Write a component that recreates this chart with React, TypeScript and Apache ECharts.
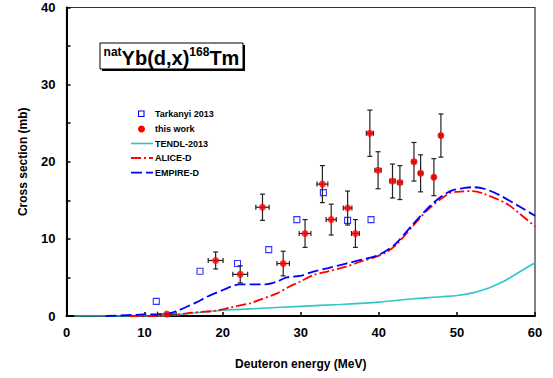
import React, { useEffect, useRef } from "react";
import * as echarts from "echarts";

// Tarkanyi 2013 (open squares)
const tarkanyiE = [11.5, 17.1, 21.9, 25.9, 29.5, 32.9, 36.0, 39.0];
const tarkanyiXS = [1.9, 5.8, 6.8, 8.6, 12.5, 16.0, 12.4, 12.5];

// this work (filled circles with error bars)
const workE = [12.85, 19.1, 22.25, 25.1, 27.75, 30.55, 32.77, 33.9, 36.0, 37.0, 38.85, 39.9, 41.75, 42.7, 44.5, 45.35, 47.05, 47.95];
const workXS = [0.25, 7.2, 5.4, 14.1, 6.8, 10.7, 17.1, 12.5, 14.0, 10.7, 23.7, 18.9, 17.5, 17.3, 20.0, 18.5, 18.0, 23.4];
const workDE = [1.2, 0.95, 0.95, 0.85, 0.8, 0.75, 0.7, 0.65, 0.55, 0.5, 0.45, 0.4, 0.35, 0.3, 0.25, 0.25, 0.2, 0.2];
const workDXS = [0.1, 1.1, 1.1, 1.7, 1.6, 1.8, 2.4, 2.0, 2.2, 1.8, 3.0, 2.4, 2.2, 2.2, 2.5, 2.4, 2.4, 2.8];

// TENDL-2013
const tendlE = [1, 10, 12.5, 14, 16, 18, 20, 25, 30, 35, 40, 43, 46, 48, 50, 52, 54, 56, 58, 60];
const tendlXS = [0, 0, 0, 0.15, 0.35, 0.55, 0.75, 1.0, 1.25, 1.5, 1.8, 2.1, 2.35, 2.5, 2.65, 3.0, 3.6, 4.5, 5.7, 6.9];

// ALICE-D
const aliceE = [8, 12, 13.5, 15.4, 17, 19.2, 21, 23.5, 25, 26.9, 28.5, 30, 31.6, 33.5, 35.8, 37.5, 39.7, 41, 42.2, 44.3, 46.5, 49, 50, 52, 53.3, 56.3, 58, 60];
const aliceXS = [0, 0, 0.1, 0.35, 0.5, 0.7, 1.1, 1.65, 2.2, 2.9, 3.8, 4.5, 5.3, 5.8, 6.4, 7.0, 7.7, 8.3, 9.2, 11.6, 14.0, 15.9, 16.1, 16.2, 15.9, 14.6, 13.3, 11.6];

// EMPIRE-D
const empireE = [5, 9.9, 12.9, 14, 15.4, 16.7, 18, 20.1, 22.2, 24, 25.5, 26.8, 28.2, 29.9, 31.6, 33.5, 35.8, 37.8, 39.7, 41, 42.2, 44.3, 46.5, 48, 49.4, 51, 52, 53.5, 55.4, 58, 60];
const empireXS = [0, 0.2, 0.3, 0.6, 1.2, 1.8, 2.5, 3.4, 4.1, 4.1, 4.1, 4.4, 5.0, 5.2, 5.75, 6.2, 6.8, 7.3, 7.8, 8.5, 9.4, 11.8, 14.2, 15.5, 16.3, 16.6, 16.7, 16.5, 15.7, 14.2, 13.0];

const xTicks = { min: 0, max: 60, interval: 10 };
const yTicks = { min: 0, max: 40, interval: 5 };

const FONT = "'Liberation Sans', Arial, sans-serif";

export default function App() {
  const ref = useRef<HTMLDivElement>(null);
  useEffect(() => {
    if (!ref.current) return;
    const chart = echarts.init(ref.current, undefined, { renderer: "svg" });
    const zip = (a: number[], b: number[]) => a.map((v, i) => [v, b[i]]);
    const errData = workE.map((e, i) => [e, workXS[i], workDE[i], workDXS[i]]);

    const lx1 = 131, lx2 = 153, tx = 155;
    const legendText = (t: string, y: number) => ({
      type: "text",
      x: tx,
      y,
      style: { text: t, font: `bold 9px ${FONT}`, fill: "#000", verticalAlign: "middle", align: "left" },
    });

    chart.setOption({
      animation: false,
      backgroundColor: "#fff",
      grid: { left: 66.5, right: 18, top: 7.5, bottom: 62, show: true, borderColor: "#333", borderWidth: 1.2, backgroundColor: "transparent" },
      xAxis: {
        type: "value",
        ...xTicks,
        name: "Deuteron energy (MeV)",
        nameLocation: "middle",
        nameGap: 42,
        nameTextStyle: { fontFamily: FONT, fontWeight: "bold", fontSize: 12, color: "#000" },
        axisLine: { show: true, onZero: false, lineStyle: { color: "#000", width: 2 } },
        axisTick: { show: true, inside: true, length: 4, lineStyle: { color: "#000", width: 1.5 } },
        axisLabel: { fontFamily: FONT, fontWeight: "bold", fontSize: 13, color: "#000", margin: 10 },
        splitLine: { show: false },
      },
      yAxis: {
        type: "value",
        ...yTicks,
        name: "Cross section (mb)",
        nameLocation: "middle",
        nameGap: 38,
        nameTextStyle: { fontFamily: FONT, fontWeight: "bold", fontSize: 12, color: "#000" },
        axisLine: { show: true, onZero: false, lineStyle: { color: "#000", width: 2 } },
        axisTick: { show: true, inside: true, length: 4, lineStyle: { color: "#000", width: 1.5 } },
        axisLabel: {
          fontFamily: FONT, fontWeight: "bold", fontSize: 13, color: "#000", margin: 11,
          formatter: (v: number) => (v % 10 === 0 ? String(v) : ""),
        },
        splitLine: { show: false },
      },
      series: [
        {
          name: "TENDL-2013", type: "line", data: zip(tendlE, tendlXS), smooth: 0.3, symbol: "none",
          lineStyle: { color: "#33C6C6", width: 1.6 }, z: 2,
        },
        {
          name: "ALICE-D", type: "line", data: zip(aliceE, aliceXS), smooth: 0.3, symbol: "none",
          lineStyle: { color: "#FF0000", width: 1.8, type: [10, 3, 2, 3] }, z: 3,
        },
        {
          name: "EMPIRE-D", type: "line", data: zip(empireE, empireXS), smooth: 0.3, symbol: "none",
          lineStyle: { color: "#0000FF", width: 1.8, type: [11, 4] }, z: 4,
        },
        {
          name: "Tarkanyi 2013", type: "scatter", data: zip(tarkanyiE, tarkanyiXS), symbol: "rect", symbolSize: 6,
          itemStyle: { color: "rgba(255,255,255,0)", borderColor: "#0000FF", borderWidth: 1.1 }, z: 5,
        },
        {
          name: "errors", type: "custom", data: errData, encode: { x: 0, y: 1 }, z: 6,
          renderItem: (params: any, api: any) => {
            const e = api.value(0), s = api.value(1), de = api.value(2), ds = api.value(3);
            const lo = api.coord([e, Math.max(0, s - ds)]);
            const hi = api.coord([e, s + ds]);
            const l = api.coord([e - de, s]);
            const r = api.coord([e + de, s]);
            const c = 2.5;
            const st = { stroke: "#222", lineWidth: 1.2 };
            const ln = (x1: number, y1: number, x2: number, y2: number) => ({ type: "line", shape: { x1, y1, x2, y2 }, style: st });
            return {
              type: "group",
              children: [
                ln(lo[0], lo[1], hi[0], hi[1]),
                ln(lo[0] - c, lo[1], lo[0] + c, lo[1]),
                ln(hi[0] - c, hi[1], hi[0] + c, hi[1]),
                ln(l[0], l[1], r[0], r[1]),
                ln(l[0], l[1] - c, l[0], l[1] + c),
                ln(r[0], r[1] - c, r[0], r[1] + c),
              ],
            };
          },
        },
        {
          name: "this work", type: "scatter", data: zip(workE, workXS), symbol: "circle", symbolSize: 7,
          itemStyle: { color: "#FF0000" }, z: 7,
        },
      ],
      graphic: [
        { type: "rect", shape: { x: 102, y: 45, width: 143, height: 26 }, style: { fill: "#000" }, z: 10 },
        { type: "rect", shape: { x: 100, y: 43, width: 143, height: 26 }, style: { fill: "#fff", stroke: "#000", lineWidth: 1 }, z: 11 },
        {
          type: "text", x: 171.5, y: 56.5, z: 12,
          style: {
            text: "{s|nat}{b|Yb(d,x)}{s|168}{b|Tm}",
            align: "center", verticalAlign: "middle",
            rich: {
              s: { font: `bold 12px ${FONT}`, fill: "#000", verticalAlign: "top", lineHeight: 22 },
              b: { font: `bold 20px ${FONT}`, fill: "#000", verticalAlign: "bottom", lineHeight: 22 },
            },
          },
        },
        { type: "rect", shape: { x: 138.5, y: 111, width: 5.5, height: 5.5 }, style: { fill: "#fff", stroke: "#0000FF", lineWidth: 1.1 }, z: 10 },
        legendText("Tarkanyi 2013", 114),
        { type: "circle", shape: { cx: 141.5, cy: 129, r: 3.5 }, style: { fill: "#FF0000" }, z: 10 },
        legendText("this work", 129),
        { type: "line", shape: { x1: lx1, y1: 143.5, x2: lx2, y2: 143.5 }, style: { stroke: "#33C6C6", lineWidth: 1.6 }, z: 10 },
        legendText("TENDL-2013", 143.5),
        { type: "line", shape: { x1: lx1, y1: 158, x2: lx2, y2: 158 }, style: { stroke: "#FF0000", lineWidth: 1.8, lineDash: [10, 3, 2, 3] }, z: 10 },
        legendText("ALICE-D", 158),
        { type: "line", shape: { x1: lx1, y1: 172.7, x2: lx2, y2: 172.7 }, style: { stroke: "#0000FF", lineWidth: 1.8, lineDash: [11, 4] }, z: 10 },
        legendText("EMPIRE-D", 172.7),
      ],
    });
    return () => chart.dispose();
  }, []);
  return <div ref={ref} style={{ width: 553, height: 378, position: "absolute", left: 0, top: 0 }} />;
}
